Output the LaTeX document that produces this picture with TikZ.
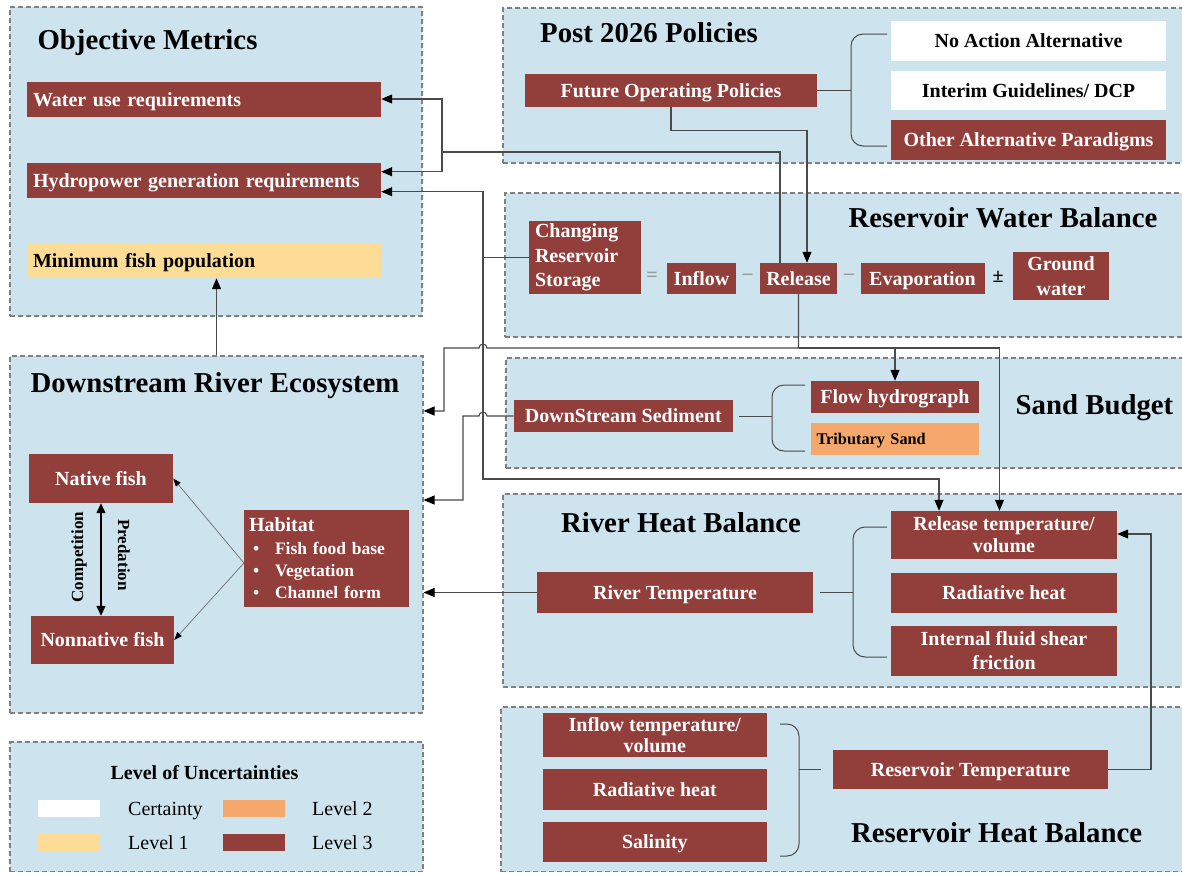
\documentclass[tikz,border=0pt]{standalone}
\usepackage{fontspec}
\setmainfont{Liberation Serif}
\usetikzlibrary{arrows.meta}

\definecolor{basinblue}{HTML}{CDE4EE}
\definecolor{basinedge}{HTML}{808080}
\definecolor{basinred}{HTML}{923F3C}
\definecolor{basinyellow}{HTML}{FDDC95}
\definecolor{basinorange}{HTML}{F6A76B}
\definecolor{basinink}{HTML}{4A4A4A}
\definecolor{basinsign}{HTML}{9A9A9A}
\tikzset{
  basin panel/.style={draw=basinedge, fill=basinblue, line width=1.1pt, dash pattern=on 5pt off 3pt, inner sep=0pt},
  panel title/.style={font=\bfseries\fontsize{28.8}{32}\selectfont, inner sep=0pt, text height=19pt, text depth=0pt},
  red box/.style={fill=basinred, text=white, font=\bfseries\fontsize{20}{23}\selectfont, inner sep=0pt, align=center},
  pale box/.style={red box, fill=#1, text=black},
  one line/.style={text height=13.5pt, text depth=0pt},
  basin link/.style={draw=basinink, line width=1pt},
  basin arrow/.style={draw=basinink, line width=1.1pt, -{Triangle[length=11pt,width=9pt,color=black]}},
  basin brace/.style={draw=basinink, line width=1pt, rounded corners=12pt},
  fish arrow/.style={draw=basinink!80, line width=0.7pt, -{Triangle[length=8pt,width=6pt,color=black]}},
  fish double/.style={draw=black, line width=1.4pt, {Triangle[length=10pt,width=9pt]}-{Triangle[length=10pt,width=9pt]}},
  basin sign/.style={font=\bfseries\fontsize{20}{23}\selectfont, inner sep=0pt},
  swatch/.style={fill=#1, minimum width=62pt, minimum height=17pt, inner sep=0pt},
  legend label/.style={font=\fontsize{20}{23}\selectfont, anchor=west, inner sep=0pt, one line},
}

\begin{document}
\begin{tikzpicture}[x=1pt, y=-1pt]
  \useasboundingbox (0,0) rectangle (1182,873);
  \fill[white] (0,0) rectangle (1182,873);

  \node[basin panel, minimum width=412pt, minimum height=309pt] (objpanel) at (216,161.5) {};
  \node[panel title] (objtitle) at (147.5,40) {Objective Metrics};
  \node[red box, one line, text width=342pt, inner xsep=6pt, align=left, minimum height=35pt] (wateruse) at (204,99.5) {Water use requirements};
  \node[red box, one line, text width=342pt, inner xsep=6pt, align=left, minimum height=35pt] (hydro) at (204,180.5) {Hydropower generation requirements};
  \node[pale box=basinyellow, one line, text width=342pt, inner xsep=6pt, align=left, minimum height=35pt] (minfish) at (204,260.5) {Minimum fish population};

  \node[basin panel, minimum width=683pt, minimum height=155pt] (polpanel) at (844.5,85.5) {};
  \node[panel title] (poltitle) at (649,33) {Post 2026 Policies};
  \node[red box, one line, minimum width=292pt, minimum height=33pt] (fop) at (671,90.5) {Future Operating Policies};
  \node[pale box=white, one line, minimum width=275pt, minimum height=40pt] (noaction) at (1028.5,41) {No Action Alternative};
  \node[pale box=white, one line, minimum width=275pt, minimum height=39pt] (interim) at (1028.5,90.5) {Interim Guidelines/ DCP};
  \node[red box, one line, minimum width=275pt, minimum height=40pt] (otheralt) at (1028.5,140) {Other Alternative Paradigms};

  \node[basin panel, minimum width=681pt, minimum height=144pt] (wbpanel) at (845.5,265) {};
  \node[panel title] (wbtitle) at (1003,218) {Reservoir Water Balance};
  \node[red box, text width=100pt, inner xsep=6pt, align=left, minimum height=73pt, font=\bfseries\fontsize{20}{24.5}\selectfont] (storage) at (585,257.5) {Changing\\Reservoir\\Storage};
  \node[basin sign, text=basinsign] (eqsign) at (652,277) {=};
  \node[red box, one line, minimum width=69pt, minimum height=31pt] (inflow) at (701.5,278.5) {Inflow};
  \node[basin sign, text=basinsign] (minusA) at (747.5,277) {\textendash};
  \node[red box, one line, minimum width=77pt, minimum height=31pt] (release) at (798.5,278.5) {Release};
  \node[basin sign, text=basinsign] (minusB) at (849,277) {\textendash};
  \node[red box, one line, minimum width=124pt, minimum height=31pt] (evap) at (922.5,278.5) {Evaporation};
  \node[basin sign] (pmsign) at (998,277) {±};
  \node[red box, minimum width=96pt, minimum height=48pt, font=\bfseries\fontsize{20}{25}\selectfont] (ground) at (1061,276) {Ground\\water};

  \node[basin panel, minimum width=680pt, minimum height=110pt] (sandpanel) at (846,413) {};
  \node[panel title] (sandtitle) at (1094.5,405) {Sand Budget};
  \node[red box, one line, minimum width=219pt, minimum height=32pt] (sediment) at (623.3,416) {DownStream Sediment};
  \node[red box, one line, minimum width=168pt, minimum height=32pt] (flowhyd) at (895,397) {Flow hydrograph};
  \node[pale box=basinorange, text width=157pt, inner xsep=5.5pt, align=left, minimum height=32pt, font=\bfseries\fontsize{16.3}{19}\selectfont, text height=11pt, text depth=0pt] (tribsand) at (895,439) {Tributary Sand};

  \node[basin panel, minimum width=413pt, minimum height=357pt] (dre) at (216.5,534.5) {};
  \node[panel title] (dretitle) at (215,383) {Downstream River Ecosystem};
  \node[red box, one line, minimum width=144pt, minimum height=49pt] (native) at (101,478.5) {Native fish};
  \node[red box, one line, minimum width=143pt, minimum height=48pt] (nonnative) at (102.5,640) {Nonnative fish};
  \node[red box, text width=155pt, inner xsep=5pt, align=left, minimum height=97pt, font=\bfseries\fontsize{17.5}{22.3}\selectfont] (habitat) at (326.5,558.5)
    {{\fontsize{20}{22.3}\selectfont Habitat}\\
     \makebox[26pt][l]{\hspace{4pt}\textbullet}Fish food base\\
     \makebox[26pt][l]{\hspace{4pt}\textbullet}Vegetation\\
     \makebox[26pt][l]{\hspace{4pt}\textbullet}Channel form};
  \node[font=\bfseries\fontsize{17}{20}\selectfont, rotate=90, inner sep=0pt] (compet) at (79,557) {Competition};
  \node[font=\bfseries\fontsize{17}{20}\selectfont, rotate=-90, inner sep=0pt] (predat) at (124,555) {Predation};

  \node[basin panel, minimum width=683pt, minimum height=193pt] (rhbpanel) at (844.5,590.5) {};
  \node[panel title] (rhbtitle) at (681,523) {River Heat Balance};
  \node[red box, one line, minimum width=276pt, minimum height=41pt] (rivertemp) at (675,592.5) {River Temperature};
  \node[red box, minimum width=226pt, minimum height=48pt, font=\bfseries\fontsize{20}{22}\selectfont] (reltemp) at (1004,535) {Release temperature/\\volume};
  \node[red box, one line, minimum width=226pt, minimum height=40pt] (radheatA) at (1004,593) {Radiative heat};
  \node[red box, minimum width=226pt, minimum height=50pt, font=\bfseries\fontsize{20}{24}\selectfont] (shear) at (1004,651) {Internal fluid shear\\friction};

  \node[basin panel, minimum width=685pt, minimum height=164.5pt] (rhpanel) at (843.5,789.25) {};
  \node[panel title] (rhtitle) at (996.6,833) {Reservoir Heat Balance};
  \node[red box, minimum width=224.4pt, minimum height=44pt, font=\bfseries\fontsize{20}{21}\selectfont] (inflowtemp) at (654.8,735) {Inflow temperature/\\volume};
  \node[red box, one line, minimum width=224.4pt, minimum height=41pt] (radheatB) at (654.8,789.5) {Radiative heat};
  \node[red box, one line, minimum width=224.4pt, minimum height=40pt] (salinity) at (654.8,842) {Salinity};
  \node[red box, one line, minimum width=275pt, minimum height=39pt] (restemp) at (970.5,769.5) {Reservoir Temperature};

  \node[basin panel, minimum width=413pt, minimum height=129.5pt] (legend) at (216.5,806.75) {};
  \node[font=\bfseries\fontsize{20}{23}\selectfont, inner sep=0pt, one line] (legtitle) at (204.5,773) {Level of Uncertainties};
  \node[swatch=white] (certswatch) at (69,808.5) {};
  \node[legend label] (certlabel) at (128,809) {Certainty};
  \node[swatch=basinorange] (twoswatch) at (253.5,808.5) {};
  \node[legend label] (twolabel) at (312,809) {Level 2};
  \node[swatch=basinyellow] (oneswatch) at (69,842.5) {};
  \node[legend label] (onelabel) at (128,843) {Level 1};
  \node[swatch=basinred] (threeswatch) at (253.5,842.5) {};
  \node[legend label] (threelabel) at (312,843) {Level 3};

  \coordinate (polbrace) at (851,90.5);
  \draw[basin brace] (887,34) -- (851,34) -- (851,146) -- (887,146);
  \draw[basin link] (fop.east) -- (fop.east -| polbrace);
  \coordinate (sandbrace) at (772,416);
  \draw[basin brace] (805,385) -- (772,385) -- (772,451) -- (805,451);
  \draw[basin link, shorten <=6pt] (sediment.east) -- (sediment.east -| sandbrace);
  \coordinate (rhbbrace) at (853,592.5);
  \draw[basin brace] (887,527) -- (853,527) -- (853,657) -- (887,657);
  \draw[basin link, shorten <=7pt] (rivertemp.east) -- (rivertemp.east -| rhbbrace);
  \coordinate (rhbrace) at (799,769.5);
  \draw[basin brace] (780,724) -- (799,724) -- (799,856) -- (780,856);
  \draw[basin link, shorten >=12pt] (rhbrace) -- (restemp.west);

  \coordinate (relA) at (780,152);
  \coordinate (relB) at (442,99);
  \coordinate (relC) at (442,171.7);
  \draw[basin arrow] (release.north -| relA) -- (relA) -| (relB) -- (wateruse.east |- relB);
  \draw[basin arrow] (relA -| relB) -- (relC) -- (hydro.east |- relC);

  \coordinate (fopA) at (807,130.7);
  \draw[basin arrow] (fop.south) |- (fopA) -- (release.north -| fopA);

  \coordinate (stoA) at (483,191.7);
  \coordinate (stoB) at (939,479);
  \draw[basin arrow] (storage.west) -| (stoA) -- (hydro.east |- stoA);
  \draw[basin arrow] (storage.west -| stoA) |- (stoB) -- (reltemp.north -| stoB);

  \coordinate (relD) at (444,411);
  \coordinate (relE) at (999.5,348);
  \draw[basin arrow] (release.south) -- (release.south |- relE) -- (487,348)
    arc[start angle=0, end angle=-180, radius=4] -- (relD |- relE) -- (relD) -- (dre.east |- relD);
  \draw[basin arrow] (release.south |- relE) -- (relE) -- (reltemp.north -| relE);
  \draw[basin arrow] (flowhyd.north |- relE) -- (flowhyd.north);

  \coordinate (sedA) at (463,500);
  \draw[basin arrow] (sediment.west) -- (487,416)
    arc[start angle=0, end angle=-180, radius=4] -- (sediment.west -| sedA) -- (sedA) -- (dre.east |- sedA);

  \draw[basin arrow] (rivertemp.west) -- (dre.east |- rivertemp.west);
  \draw[basin arrow] (dre.north) -- (minfish.south -| dre.north);

  \coordinate (habA) at (244,563);
  \draw[fish arrow] (habA) -- (native.east);
  \draw[fish arrow] (habA) -- (nonnative.east);
  \draw[fish double] (native.south) -- (native.south |- nonnative.north);

  \coordinate (resA) at (1151,534);
  \draw[basin arrow] (restemp.east) -| (resA) -- (reltemp.east |- resA);
\end{tikzpicture}
\end{document}
